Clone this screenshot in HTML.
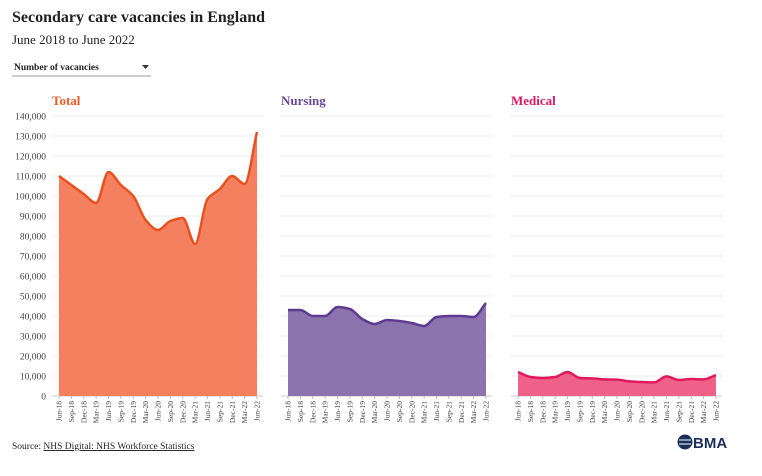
<!DOCTYPE html>
<html><head><meta charset="utf-8"><style>
body{margin:0;background:#fff;width:762px;height:471px;overflow:hidden;font-family:"Liberation Serif",serif;}
</style></head><body>
<svg id="c" width="762" height="471" xmlns="http://www.w3.org/2000/svg">
<text x="12" y="22" font-size="16" font-weight="bold" fill="#222">Secondary care vacancies in England</text>
<text x="12" y="44" font-size="13" fill="#222">June 2018 to June 2022</text>
<g>
<text x="14" y="70" font-size="9.5" font-weight="bold" fill="#222">Number of vacancies</text>
<path d="M142 65 L149 65 L145.5 69 Z" fill="#333"/>
<line x1="12" y1="76" x2="151" y2="76" stroke="#999" stroke-width="1"/>
</g>
<g id="panels"></g>
<text x="12" y="449" font-size="9.5" fill="#222">Source: <tspan text-decoration="underline">NHS Digital: NHS Workforce Statistics</tspan></text>
<g>
<circle cx="685" cy="442" r="7.5" fill="#1b2f5e"/>
<line x1="679" y1="440" x2="691" y2="440" stroke="#fff" stroke-width="1"/>
<line x1="679" y1="444" x2="691" y2="444" stroke="#fff" stroke-width="1"/>
<text x="693" y="448" font-family="Liberation Sans,sans-serif" font-size="15" font-weight="bold" fill="#1b2f5e">BMA</text>
</g>
</svg>
<script>
const categories=["Jun-18","Sep-18","Dec-18","Mar-19","Jun-19","Sep-19","Dec-19","Mar-20","Jun-20","Sep-20","Dec-20","Mar-21","Jun-21","Sep-21","Dec-21","Mar-22","Jun-22"];
const totalValues=[110000,105500,101000,96500,112000,105500,100000,88000,83000,87500,89000,76000,98500,103500,110000,106000,132000];
const nursingValues=[43000,43000,40000,40000,44500,43500,38500,36000,38000,37500,36500,35000,39500,40000,40000,39500,46500];
const medicalValues=[12000,9500,9000,9500,12000,9000,8800,8300,8200,7300,7000,6800,9800,8000,8500,8300,10500];
const yTicks=[0,10000,20000,30000,40000,50000,60000,70000,80000,90000,100000,110000,120000,130000,140000];
const panelTitles=["Total","Nursing","Medical"];
const NS="http://www.w3.org/2000/svg";
const g=document.getElementById('panels');
const panels=[
 {vals:totalValues,x0:59,line:"#e8501e",fill:"#f58060",tc:"#ef5a24"},
 {vals:nursingValues,x0:288,line:"#5e3b91",fill:"#8b73ad",tc:"#6a4a9c"},
 {vals:medicalValues,x0:518,line:"#e0195f",fill:"#ef6189",tc:"#e0195f"}];
const W=198,yBase=396,yMax=140000,H=280;
function y(v){return yBase-v/yMax*H;}
function mk(t,a,p){const e=document.createElementNS(NS,t);for(const k in a)e.setAttribute(k,a[k]);(p||g).appendChild(e);return e;}
function smooth(pts){
 const n=pts.length,d=[],m=[];
 for(let i=0;i<n-1;i++)d.push((pts[i+1][1]-pts[i][1])/(pts[i+1][0]-pts[i][0]));
 m[0]=d[0];m[n-1]=d[n-2];
 for(let i=1;i<n-1;i++){m[i]=(d[i-1]*d[i]>0)?2/(1/d[i-1]+1/d[i]):0;}
 let s="M"+pts[0][0]+" "+pts[0][1];
 for(let i=0;i<n-1;i++){const h=(pts[i+1][0]-pts[i][0])/3;
  s+=` C${pts[i][0]+h} ${pts[i][1]+m[i]*h} ${pts[i+1][0]-h} ${pts[i+1][1]-m[i+1]*h} ${pts[i+1][0]} ${pts[i+1][1]}`;}
 return s;}
panels.forEach((p,pi)=>{
 const pg=mk('g',{});
 
 
 const t=mk('text',{x:p.x0-7,y:105,'font-size':13,'font-weight':'bold',fill:p.tc},pg);t.textContent=panelTitles[pi];
 
 
 yTicks.forEach(v=>{
  const l=mk('line',{x1:p.x0-7,x2:p.x0+W+6,y1:y(v),y2:y(v),stroke:v===0?'#ccc':'#ebebeb','stroke-width':1},pg);
  
  
  if(pi===0){const tt=mk('text',{x:46,y:y(v)+3.5,'font-size':9.5,fill:'#444','text-anchor':'end'},pg);tt.textContent=v.toLocaleString('en-GB');
   
   }
 });
 const step=W/(categories.length-1);
 const pts=p.vals.map((v,i)=>[p.x0+i*step,y(v)]);
 const path=smooth(pts);
 const a=mk('path',{d:path+` L${pts[pts.length-1][0]} ${yBase} L${p.x0} ${yBase} Z`,fill:p.fill},pg);
 
 
 const ln=mk('path',{d:path,fill:'none',stroke:p.line,'stroke-width':2.5},pg);
 
 
 categories.forEach((c,i)=>{
  const x=p.x0+i*step;
  mk('line',{x1:x,x2:x,y1:yBase,y2:yBase+3,stroke:'#bbb'},pg);
  const tt=mk('text',{x:0,y:0,'font-size':7.5,fill:'#444','text-anchor':'end',transform:`translate(${x+2.5},${yBase+5}) rotate(-90)`},pg);
  tt.textContent=c;
  
  
 });
});
</script>
</body></html>
